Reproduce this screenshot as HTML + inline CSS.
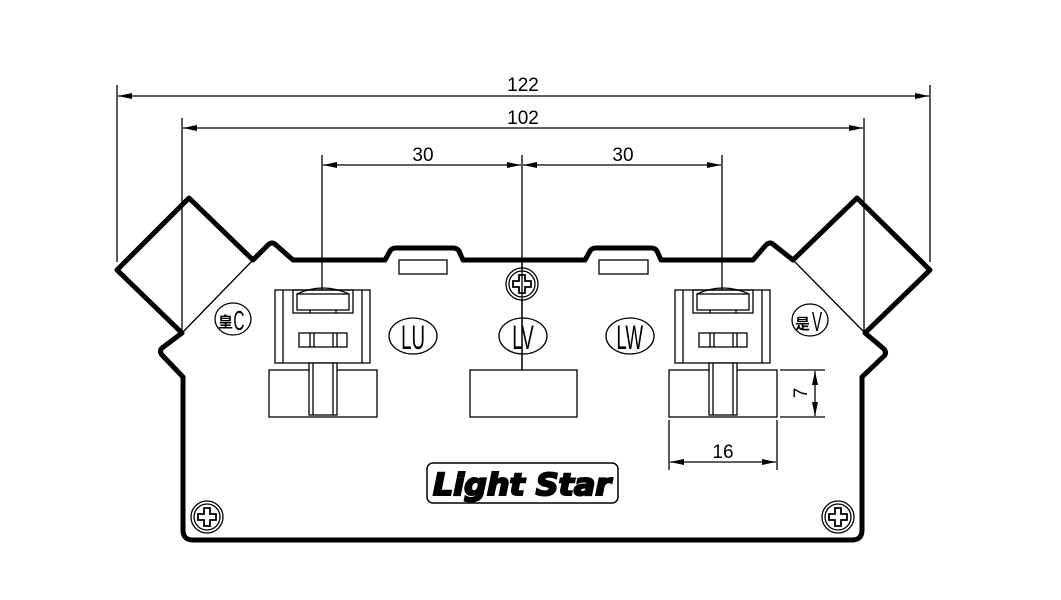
<!DOCTYPE html>
<html><head><meta charset="utf-8"><style>
html,body{margin:0;padding:0;background:#fff;}
svg{display:block}
text{font-family:"Liberation Sans",sans-serif;fill:#000}
</style></head><body>
<svg width="1061" height="600" viewBox="0 0 1061 600" xmlns="http://www.w3.org/2000/svg">
<defs>
<marker id="a" viewBox="0 0 14 6" refX="14" refY="3" markerWidth="14" markerHeight="6" orient="auto-start-reverse" markerUnits="userSpaceOnUse"><path d="M0,0 L14,3 L0,6 Z" fill="#000"/></marker>
<g id="screw"><circle r="16" fill="#fff" stroke="#000" stroke-width="1.3"/><circle r="13" fill="none" stroke="#000" stroke-width="1.3"/><path d="M-3,-9 H3 V-3 H9 V3 H3 V9 H-3 V3 H-9 V-3 H-3 Z" fill="none" stroke="#000" stroke-width="1.8"/></g>
<g id="conn" fill="none" stroke="#000" stroke-width="1.3">
<rect x="275" y="290" width="95" height="73"/>
<line x1="283" y1="290" x2="283" y2="363"/><line x1="362" y1="290" x2="362" y2="363"/>
<rect x="293" y="290" width="60" height="23"/>
<rect x="297" y="294" width="52" height="16"/>
<path d="M297,294 Q323,282 349,294"/>
<line x1="310" y1="310" x2="310" y2="313"/><line x1="336" y1="310" x2="336" y2="313"/>
<rect x="299" y="333" width="48" height="14"/>
<line x1="310" y1="333" x2="310" y2="347"/><line x1="314" y1="333" x2="314" y2="347"/>
<line x1="333" y1="333" x2="333" y2="347"/><line x1="337" y1="333" x2="337" y2="347"/>
<rect x="269" y="370" width="108" height="47"/>
<rect x="309" y="363" width="28" height="52" fill="#fff"/>
<line x1="313" y1="363" x2="313" y2="415"/><line x1="333" y1="363" x2="333" y2="415"/>
</g>
</defs>

<g stroke="#000" stroke-width="1.3" fill="none">
<line x1="117" y1="85" x2="117" y2="262"/>
<line x1="930" y1="85" x2="930" y2="262"/>
<line x1="182" y1="118" x2="182" y2="333"/>
<line x1="864" y1="118" x2="864" y2="333"/>
<line x1="322" y1="155" x2="322" y2="290"/>
<line x1="722" y1="155" x2="722" y2="290"/>
<line x1="522" y1="155" x2="522" y2="370"/>
<line x1="118" y1="96" x2="929" y2="96" marker-start="url(#a)" marker-end="url(#a)"/>
<line x1="183" y1="128" x2="863" y2="128" marker-start="url(#a)" marker-end="url(#a)"/>
<line x1="323" y1="165" x2="521" y2="165" marker-start="url(#a)" marker-end="url(#a)"/>
<line x1="523" y1="165" x2="721" y2="165" marker-start="url(#a)" marker-end="url(#a)"/>
<line x1="253" y1="260" x2="182" y2="333"/>
<line x1="793" y1="260" x2="865" y2="333"/>
</g>
<g font-size="19" text-anchor="middle">
<text x="523" y="91">122</text>
<text x="523" y="124">102</text>
<text x="423" y="161">30</text>
<text x="623" y="161">30</text>
</g>

<path d="M183,377 L162,355 Q159,351 162,348 L182,333 L117,270 L189,198 L253,260 L268,245 Q272,241 276,245 L293,260 L385,260 L390,251 Q392,248 396,248 L453,248 Q457,248 459,251 L463,260 L585,260 L590,251 Q592,248 596,248 L651,248 Q655,248 657,251 L661,260 L753,260 L766,245 Q770,241 774,245 L793,260 L857,198 L930,270 L865,333 L884,349 Q887,353 884,356 L862,377 L862,530 Q862,540 852,540 L193,540 Q183,540 183,530 Z" fill="none" stroke="#000" stroke-width="5" stroke-linejoin="round"/>

<g fill="none" stroke="#000" stroke-width="1.3">
<rect x="399" y="260" width="48" height="14"/>
<rect x="599" y="260" width="49" height="14"/>
<rect x="470" y="370" width="107" height="47"/>
</g>
<use href="#conn"/>
<use href="#conn" x="400"/>
<line x1="522" y1="260" x2="522" y2="370" stroke="#000" stroke-width="1.3"/>

<use href="#screw" x="522" y="284"/>
<line x1="522" y1="266" x2="522" y2="302" stroke="#000" stroke-width="1.3"/>
<use href="#screw" x="207" y="517"/>
<use href="#screw" x="838" y="517"/>

<g fill="none" stroke="#000" stroke-width="1.3">
<ellipse cx="413" cy="336" rx="24" ry="18"/>
<ellipse cx="523" cy="336" rx="24" ry="18"/>
<ellipse cx="630" cy="336" rx="24" ry="18"/>
<ellipse cx="233" cy="319" rx="18" ry="16"/>
<ellipse cx="810" cy="320" rx="18" ry="16"/>
</g>
<g font-size="34" text-anchor="middle" transform="scale(0.55,1)">
<text x="751" y="349">LU</text>
<text x="951" y="349">LV</text>
<text x="1145" y="349">LW</text>
</g>
<text x="218" y="327" font-size="15" font-weight="bold" style="font-family:'Liberation Sans','Noto Sans CJK SC',sans-serif">皇</text>
<text x="239" y="330" font-size="28" text-anchor="middle" transform="translate(239,0) scale(0.55,1) translate(-239,0)">C</text>
<text x="795" y="329" font-size="15" font-weight="bold" style="font-family:'Liberation Sans','Noto Sans CJK SC',sans-serif">是</text>
<text x="817" y="331" font-size="28" text-anchor="middle" transform="translate(817,0) scale(0.55,1) translate(-817,0)">V</text>

<rect x="427" y="463" width="191" height="40" rx="6" fill="none" stroke="#000" stroke-width="1.5"/>
<text x="522" y="495" text-anchor="middle" font-size="30" font-weight="bold" font-style="italic" stroke="#000" stroke-width="2" style="font-family:'DejaVu Sans',sans-serif" textLength="178" lengthAdjust="spacingAndGlyphs">Light Star</text>

<g stroke="#000" stroke-width="1.3" fill="none">
<line x1="780" y1="370" x2="825" y2="370"/>
<line x1="780" y1="417" x2="825" y2="417"/>
<line x1="815" y1="371" x2="815" y2="416" marker-start="url(#a)" marker-end="url(#a)"/>
<line x1="669" y1="420" x2="669" y2="470"/>
<line x1="777" y1="420" x2="777" y2="470"/>
<line x1="670" y1="462" x2="776" y2="462" marker-start="url(#a)" marker-end="url(#a)"/>
</g>
<text x="0" y="0" font-size="19" text-anchor="middle" transform="translate(807,393) rotate(-90)">7</text>
<text x="723" y="458" font-size="19" text-anchor="middle">16</text>
</svg>
</body></html>
